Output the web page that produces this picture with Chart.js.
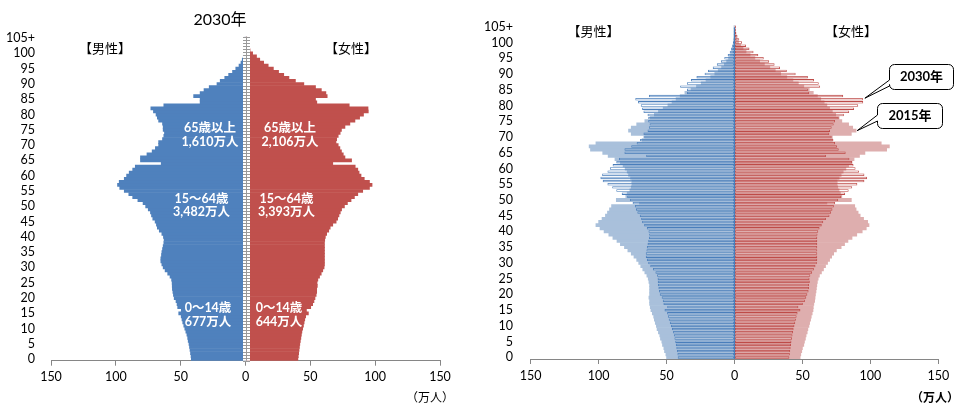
<!DOCTYPE html>
<html>
<head>
<meta charset="utf-8">
<script src="https://cdn.jsdelivr.net/npm/chart.js@4.4.1/dist/chart.umd.min.js"></script>
<style>
  html, body { margin: 0; padding: 0; background: #fff; }
  #wrap { position: relative; width: 954px; height: 404px; }
  canvas { position: absolute; top: 0; }
  #left { left: 0; }
  #right { left: 477px; }
</style>
</head>
<body>
<div id="wrap">
  <canvas id="left" width="477" height="404"></canvas>
  <canvas id="right" width="477" height="404"></canvas>
</div>
<script>
// Age categories, 0 .. 105+
const ages = ['0','1','2','3','4','5','6','7','8','9','10','11','12','13','14','15','16','17','18','19',
  '20','21','22','23','24','25','26','27','28','29','30','31','32','33','34','35','36','37','38','39',
  '40','41','42','43','44','45','46','47','48','49','50','51','52','53','54','55','56','57','58','59',
  '60','61','62','63','64','65','66','67','68','69','70','71','72','73','74','75','76','77','78','79',
  '80','81','82','83','84','85','86','87','88','89','90','91','92','93','94','95','96','97','98','99',
  '100','101','102','103','104','105+'];

// Population by single year of age (万人)
const male2030 = [
  41.8, 42.0, 42.4, 42.8, 43.2, 43.6, 44.2, 44.6, 45.2, 46.0,
  46.8, 47.6, 48.4, 49.0, 49.6, 51.5, 49.5, 52.3, 52.8, 53.6,
  55.0, 55.6, 56.0, 56.4, 56.5, 56.6, 57.0, 58.2, 60.0, 62.0,
  63.5, 64.5, 65.3, 65.3, 64.8, 64.5, 64.0, 63.5, 63.0, 62.8,
  63.3, 64.5, 66.5, 68.0, 68.7, 69.7, 71.5, 72.5, 73.3, 75.0,
  77.0, 79.0, 83.0, 87.0, 90.0, 93.5, 97.0, 98.7, 97.4, 93.5,
  91.7, 89.7, 87.0, 85.0, 65.0, 81.0, 81.0, 76.0, 72.0, 69.5,
  67.0, 67.0, 64.0, 63.0, 62.5, 63.5, 63.5, 64.0, 67.0, 68.0,
  69.0, 71.0, 73.0, 63.0, 35.0, 35.0, 40.0, 35.0, 32.0, 28.0,
  22.0, 19.5, 16.0, 13.0, 10.0, 7.5, 5.0, 3.5, 2.5, 1.7,
  1.2, 0.8, 0.5, 0.4, 0.3, 0.3];

const female2030 = [
  40.4, 40.7, 41.0, 41.3, 41.6, 41.9, 42.3, 42.7, 43.1, 43.5,
  44.1, 44.7, 45.2, 45.7, 46.4, 48.5, 47.0, 50.3, 51.8, 52.8,
  53.6, 54.5, 54.9, 54.9, 55.4, 55.2, 55.8, 57.1, 58.4, 59.6,
  60.6, 60.9, 60.9, 60.9, 60.9, 60.9, 60.9, 60.9, 60.9, 61.1,
  61.6, 62.6, 64.2, 65.3, 67.3, 69.9, 71.1, 72.1, 73.1, 74.1,
  76.3, 78.6, 81.4, 84.0, 86.6, 90.4, 95.6, 97.6, 95.6, 91.6,
  89.1, 87.6, 86.6, 84.6, 67.3, 81.8, 76.7, 75.4, 74.0, 72.8,
  71.5, 69.8, 70.3, 71.5, 73.0, 74.0, 76.7, 80.5, 84.4, 88.0,
  91.0, 94.7, 94.5, 80.0, 55.0, 54.0, 63.0, 62.0, 58.5, 54.0,
  45.0, 38.5, 33.5, 29.5, 25.5, 21.5, 17.5, 14.0, 11.0, 8.5,
  5.5, 3.5, 2.2, 1.4, 1.0, 1.0];

const male2015 = [
  50.0, 50.5, 51.5, 52.0, 53.0, 53.5, 54.5, 55.0, 56.0, 57.0,
  57.5, 58.3, 59.0, 59.5, 60.5, 61.5, 62.0, 62.5, 62.5, 63.0,
  62.5, 62.5, 62.5, 62.5, 63.0, 63.5, 64.5, 66.0, 67.5, 69.0,
  70.5, 72.0, 74.0, 76.0, 78.5, 81.0, 84.0, 86.5, 89.5, 92.5,
  96.0, 99.0, 102.0, 100.0, 97.5, 95.0, 93.5, 92.0, 90.5, 70.0,
  87.0, 80.0, 79.0, 77.0, 76.0, 75.5, 75.5, 76.5, 78.0, 79.0,
  80.5, 82.0, 84.0, 88.0, 93.0, 97.0, 106.0, 107.0, 102.0, 68.0,
  66.0, 76.0, 78.0, 76.0, 72.0, 66.0, 62.0, 59.0, 56.0, 52.5,
  49.0, 46.0, 43.0, 40.0, 36.5, 32.0, 28.0, 24.5, 21.0, 17.5,
  14.5, 12.0, 9.5, 7.5, 5.8, 4.4, 3.2, 2.2, 1.5, 1.0,
  0.6, 0.4, 0.25, 0.15, 0.1, 0.1];

const female2015 = [
  48.3, 48.8, 49.5, 50.0, 51.0, 51.5, 52.2, 52.7, 53.5, 54.0,
  54.8, 55.3, 56.0, 56.5, 57.2, 57.8, 58.0, 58.4, 59.0, 59.3,
  59.6, 60.0, 60.3, 60.6, 61.0, 61.6, 62.5, 64.0, 65.5, 67.0,
  68.5, 70.0, 71.5, 73.0, 75.0, 78.5, 81.0, 83.5, 86.5, 90.0,
  94.0, 97.0, 99.0, 98.0, 95.0, 92.5, 91.0, 89.5, 88.5, 68.0,
  86.0, 79.0, 78.0, 77.0, 76.0, 75.5, 75.5, 77.0, 78.5, 80.0,
  82.0, 84.0, 86.5, 88.0, 92.0, 96.0, 112.0, 114.0, 108.0, 72.0,
  72.0, 86.0, 89.5, 87.0, 84.0, 79.0, 77.0, 74.5, 72.0, 70.0,
  68.0, 66.0, 63.5, 61.0, 58.0, 55.0, 51.0, 47.0, 43.0, 38.5,
  34.0, 30.0, 26.0, 22.0, 18.5, 15.0, 11.5, 8.5, 6.3, 4.5,
  3.0, 2.0, 1.3, 0.8, 0.5, 0.5];

// Age-group totals printed on the 2030 pyramid
const groupLabels = ['65歳以上', '15～64歳', '0～14歳'];
const groupMale = ['1,610万人', '3,482万人', '677万人'];
const groupFemale = ['2,106万人', '3,393万人', '644万人'];

const FONT = "Lato, 'Noto Sans CJK JP', sans-serif";
const JP = "'Noto Sans CJK JP', sans-serif";
Chart.defaults.font.family = FONT;
Chart.defaults.color = '#000';

const AXIS_GRAY = '#868686';
const MALE_LINE = '#4A7EBB';
const toLeft = arr => arr.map(v => -v);

function scalesFor(yWidth, yPad, xHeight) {
  return {
    x: {
      min: -150, max: 150,
      ticks: { stepSize: 50, callback: v => Math.abs(v), font: { size: 12.5 }, padding: 4, color: '#000' },
      grid: { drawOnChartArea: false, drawTicks: true, tickLength: 5, color: AXIS_GRAY },
      border: { color: AXIS_GRAY, width: 1 },
      afterFit: s => { s.height = xHeight; }
    },
    y: {
      reverse: true,
      ticks: { autoSkip: false, callback: (v, i) => (i % 5 === 0 ? ages[i] : ''), font: { size: 12.5 }, padding: yPad, color: '#000' },
      grid: { display: false, drawTicks: false },
      border: { display: false },
      afterFit: s => { s.width = yWidth; }
    }
  };
}

function text(ctx, str, x, y, font, color, align) {
  ctx.font = font;
  ctx.fillStyle = color;
  ctx.textAlign = align || 'center';
  ctx.textBaseline = 'middle';
  ctx.fillText(str, x, y);
}

// Vertical age axis at zero, with a tick at every age boundary
const centerAxis = {
  id: 'centerAxis',
  afterDatasetsDraw(chart) {
    const { ctx, chartArea: a, scales: { x } } = chart;
    const x0 = Math.round(x.getPixelForValue(0));
    ctx.save();
    ctx.fillStyle = '#fff';
    ctx.fillRect(x0 - 3, a.top, 7, a.bottom - a.top);
    ctx.strokeStyle = '#9a9a9a';
    ctx.lineWidth = 1;
    ctx.beginPath();
    ctx.moveTo(x0 + 0.5, a.top);
    ctx.lineTo(x0 + 0.5, a.bottom);
    const n = ages.length;
    for (let i = 0; i <= n; i++) {
      const yy = Math.round(a.top + (a.bottom - a.top) * i / n) + 0.5;
      ctx.moveTo(x0 - 3, yy);
      ctx.lineTo(x0 + 4, yy);
    }
    ctx.stroke();
    ctx.restore();
  }
};

// Plain zero line between the two halves of the comparison pyramid
const zeroLine = {
  id: 'zeroLine',
  afterDatasetsDraw(chart) {
    const { ctx, chartArea: a, scales: { x } } = chart;
    const x0 = Math.round(x.getPixelForValue(0)) - 0.5;
    ctx.save();
    ctx.strokeStyle = MALE_LINE;
    ctx.lineWidth = 1.2;
    ctx.beginPath();
    ctx.moveTo(x0, a.top + 2);
    ctx.lineTo(x0, a.bottom);
    ctx.stroke();
    ctx.restore();
  }
};

const leftText = {
  id: 'leftText',
  afterDraw(chart) {
    const ctx = chart.ctx;
    ctx.save();
    const bold = "bold 12.5px " + FONT;
    text(ctx, groupLabels[0], 210, 128, bold, '#fff');
    text(ctx, groupMale[0], 210, 142, bold, '#fff');
    text(ctx, groupLabels[0], 290, 128, bold, '#fff');
    text(ctx, groupFemale[0], 290, 142, bold, '#fff');
    text(ctx, groupLabels[1], 201.5, 199, bold, '#fff');
    text(ctx, groupMale[1], 201.5, 212, bold, '#fff');
    text(ctx, groupLabels[1], 286.5, 199, bold, '#fff');
    text(ctx, groupFemale[1], 286.5, 212, bold, '#fff');
    text(ctx, groupLabels[2], 208, 308, bold, '#fff');
    text(ctx, groupMale[2], 208, 321.5, bold, '#fff');
    text(ctx, groupLabels[2], 279, 308, bold, '#fff');
    text(ctx, groupFemale[2], 279, 321.5, bold, '#fff');
    text(ctx, '【男性】', 105, 48, "13px " + JP, '#000');
    text(ctx, '【女性】', 351, 48, "13px " + JP, '#000');
    text(ctx, '（万人）', 430, 397, "12px " + JP, '#000');
    ctx.restore();
  }
};

function calloutPath(ctx, x, y, w, h, r, py1, py2, tx, ty) {
  ctx.beginPath();
  ctx.moveTo(x + r, y);
  ctx.lineTo(x + w - r, y); ctx.arcTo(x + w, y, x + w, y + r, r);
  ctx.lineTo(x + w, y + h - r); ctx.arcTo(x + w, y + h, x + w - r, y + h, r);
  ctx.lineTo(x + r, y + h); ctx.arcTo(x, y + h, x, y + h - r, r);
  ctx.lineTo(x, py2); ctx.lineTo(tx, ty); ctx.lineTo(x, py1);
  ctx.lineTo(x, y + r); ctx.arcTo(x, y, x + r, y, r);
  ctx.closePath();
}

function drawCallout(ctx, box, tip, label) {
  ctx.lineWidth = 1;
  ctx.strokeStyle = '#000';
  ctx.fillStyle = '#fff';
  calloutPath(ctx, box.x, box.y, box.w, box.h, 5, box.p1, box.p2, tip.x, tip.y);
  ctx.fill();
  ctx.stroke();
  text(ctx, label, box.x + box.w / 2, box.y + box.h / 2 - 0.5, "bold 13px " + FONT, '#000');
}

const rightText = {
  id: 'rightText',
  afterDraw(chart) {
    const { ctx, scales: { x, y } } = chart;
    ctx.save();
    text(ctx, '【男性】', 116.5, 31, "13px " + JP, '#000');
    text(ctx, '【女性】', 374, 31, "13px " + JP, '#000');
    text(ctx, '（万人）', 458, 397, "bold 12px " + JP, '#000');
    // 2030 callout points at the 82-year-old women bar, 2015 at the 72-year-old
    drawCallout(ctx, { x: 412.5, y: 64.5, w: 64, h: 25, p1: 80, p2: 86 },
      { x: x.getPixelForValue(female2030[82]) + 2, y: y.getPixelForValue(82) - 1 }, '2030年');
    drawCallout(ctx, { x: 400.5, y: 103.5, w: 65, h: 25, p1: 115, p2: 121 },
      { x: x.getPixelForValue(female2015[72]) + 1, y: y.getPixelForValue(72) }, '2015年');
    ctx.restore();
  }
};

// lower "order" is painted later, i.e. on top
const fill = (data, color, order) => ({
  data, backgroundColor: color, borderWidth: 0, grouped: false,
  barPercentage: 1, categoryPercentage: 1, order
});
const outline = (data, color, order) => ({
  data, backgroundColor: 'rgba(0,0,0,0)', borderColor: color, borderWidth: 0.8,
  borderSkipped: false, grouped: false, barPercentage: 0.78, categoryPercentage: 1, order
});

// 2030 pyramid
new Chart(document.getElementById('left'), {
  type: 'bar',
  data: {
    labels: ages,
    datasets: [
      Object.assign(fill(toLeft(male2030), '#4F81BD', 1), { label: '男性' }),
      Object.assign(fill(female2030, '#C0504D', 1), { label: '女性' })
    ]
  },
  options: {
    indexAxis: 'y', responsive: false, animation: false, devicePixelRatio: 1,
    layout: { padding: { left: 0, right: 37, top: 0, bottom: 13 } },
    plugins: {
      legend: { display: false }, tooltip: { enabled: false },
      title: { display: true, text: '2030年', color: '#000', font: { size: 16, weight: 'normal', family: FONT }, padding: { top: 10, bottom: 7.4 } }
    },
    scales: scalesFor(51, 16, 30.3)
  },
  plugins: [centerAxis, leftText]
});

// 2015 (filled) against 2030 (outlined)
new Chart(document.getElementById('right'), {
  type: 'bar',
  data: {
    labels: ages,
    datasets: [
      Object.assign(fill(toLeft(male2015), '#A9C0DB', 4), { label: '男性 2015年' }),
      Object.assign(fill(female2015, '#DEAEAE', 3), { label: '女性 2015年' }),
      Object.assign(outline(female2030, '#BE4B48', 2), { label: '女性 2030年' }),
      Object.assign(outline(toLeft(male2030), MALE_LINE, 1), { label: '男性 2030年' })
    ]
  },
  options: {
    indexAxis: 'y', responsive: false, animation: false, devicePixelRatio: 1,
    layout: { padding: { left: 0, right: 15.7, top: 18, bottom: 15 } },
    plugins: { legend: { display: false }, tooltip: { enabled: false } },
    scales: scalesFor(53.7, 17.7, 30)
  },
  plugins: [zeroLine, rightText]
});
</script>
</body>
</html>
